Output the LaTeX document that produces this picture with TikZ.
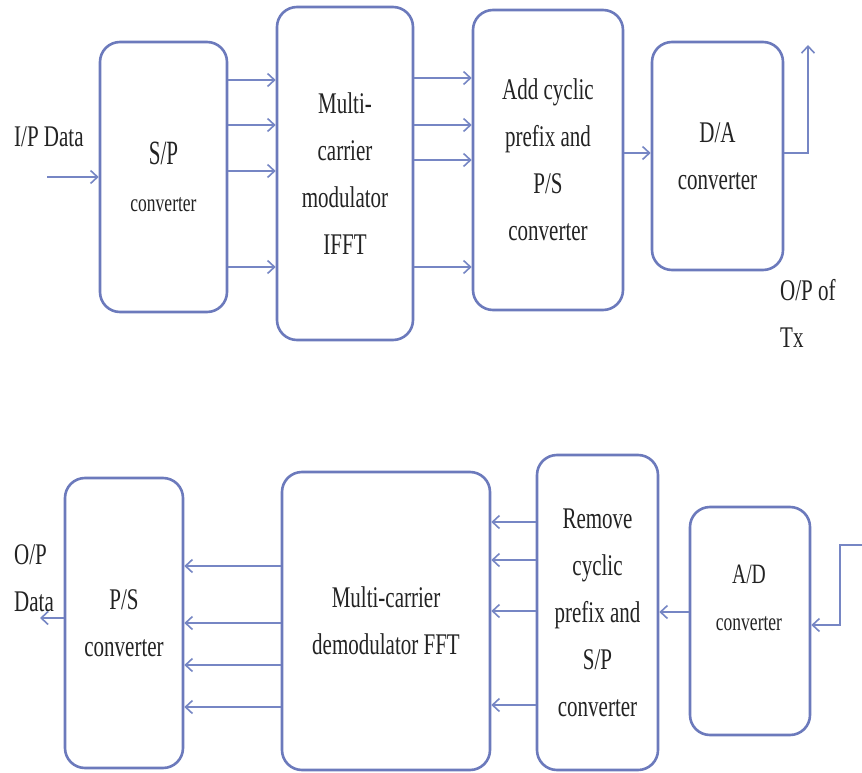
\documentclass[tikz,border=0pt]{standalone}
\usepackage{fontspec}
\usepackage{graphicx}
\setmainfont{Liberation Serif}
\usetikzlibrary{arrows.meta}
\definecolor{boxc}{RGB}{108,122,188}
\definecolor{linec}{RGB}{118,134,196}
\definecolor{txtc}{RGB}{35,35,35}
\newcommand\nar[1]{\scalebox{0.7}[1]{#1}}
\newcommand\sml[1]{{\fontsize{25}{47}\selectfont\nar{#1}}}
\begin{document}
\begin{tikzpicture}[x=1pt,y=-1pt,
  blk/.style={draw=boxc, line width=2.6pt, rounded corners=20pt, fill=white,
    align=center, text=txtc, inner sep=0pt},
  lbl/.style={text=txtc, inner sep=0pt},
  arr/.style={draw=linec, line width=2.4pt, -{Straight Barb[length=7pt,width=13pt,line width=1.6pt]}},
  font=\fontsize{30}{47}\selectfont]
\useasboundingbox[fill=white] (0,0) rectangle (862,773);

% ---------- transmitter ----------
\node[blk, minimum width=127pt, minimum height=270pt] (sp) at (163.5,177)
  {{\fontsize{34}{43}\selectfont\scalebox{0.62}[1]{S/P}}\\\sml{converter}};
\node[blk, minimum width=136pt, minimum height=333pt] (ifft) at (345,173.5)
  {\nar{Multi-}\\\nar{carrier}\\\nar{modulator}\\\nar{IFFT}};
\node[blk, minimum width=150pt, minimum height=300pt] (acp) at (548,160)
  {\nar{Add cyclic}\\\nar{prefix and}\\\nar{P/S}\\\nar{converter}};
\node[blk, minimum width=131pt, minimum height=228pt] (da) at (717.5,156)
  {\nar{D/A}\\\nar{converter}};

\node[lbl, anchor=west] (ipd) at (14,137) {\nar{I/P Data}};
\node[lbl, anchor=west, align=left] (optx) at (780,313) {\nar{O/P of}\\\nar{Tx}};

\coordinate (in) at (47,177);
\draw[arr] (in) -- (sp.west |- in);
\foreach \y in {80,125,171,267} \draw[arr] (sp.east |- 0,\y) -- (ifft.west |- 0,\y);
\foreach \y in {78,125,160,267} \draw[arr] (ifft.east |- 0,\y) -- (acp.west |- 0,\y);
\draw[arr] (acp.east |- 0,153) -- (da.west |- 0,153);
\coordinate (txc) at (808,153);
\coordinate (txo) at (808,45);
\draw[arr] (da.east |- txc) -- (txc) -- (txo);

% ---------- receiver ----------
\node[blk, minimum width=118pt, minimum height=290pt] (ps) at (124,623)
  {\nar{P/S}\\\nar{converter}};
\node[blk, minimum width=208pt, minimum height=298pt] (fft) at (386,621)
  {\nar{Multi-carrier}\\\nar{demodulator FFT}};
\node[blk, minimum width=121pt, minimum height=315pt] (rcp) at (597.5,612.5)
  {\nar{Remove}\\\nar{cyclic}\\\nar{prefix and}\\\nar{S/P}\\\nar{converter}};
\node[blk, minimum width=120pt, minimum height=228pt] (ad) at (750,621) {};
\node[lbl, align=center] (adt) at (749,598)
  {{\fontsize{28}{43}\selectfont\nar{A/D}}\\\sml{converter}};

\node[lbl, anchor=west, align=left] (opd) at (14,578) {\nar{O/P}\\\nar{Data}};

\foreach \y in {566,623,665,707} \draw[arr] (fft.west |- 0,\y) -- (ps.east |- 0,\y);
\coordinate (outd) at (40,618);
\draw[arr] (ps.west |- outd) -- (outd);
\foreach \y in {522,560,611,705} \draw[arr] (rcp.west |- 0,\y) -- (fft.east |- 0,\y);
\draw[arr] (ad.west |- 0,612) -- (rcp.east |- 0,612);
\coordinate (rxi) at (862,545);
\coordinate (rxc) at (840,545);
\coordinate (rxd) at (840,625);
\draw[arr] (rxi) -- (rxc) -- (rxd) -- (ad.east |- rxd);
\end{tikzpicture}
\end{document}
